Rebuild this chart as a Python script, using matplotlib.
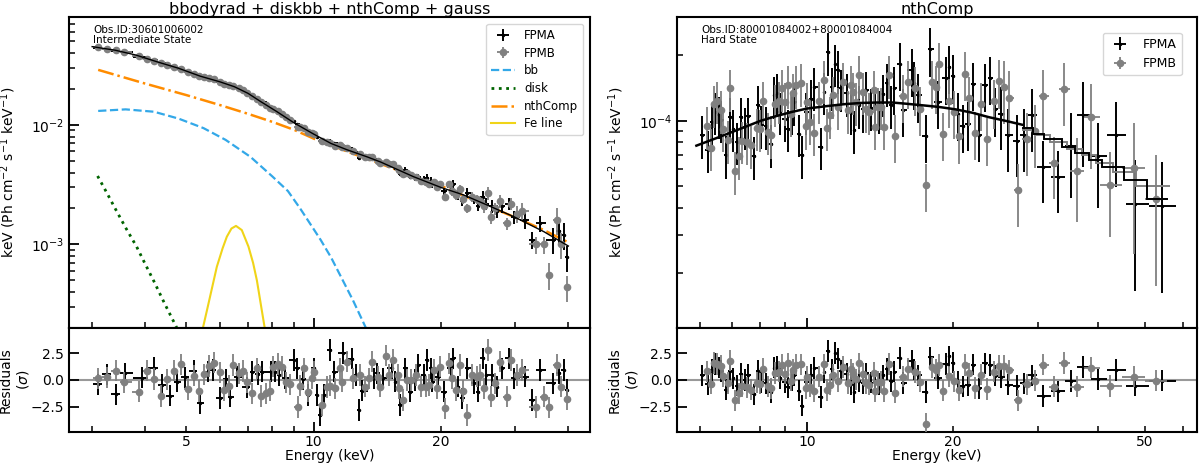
import numpy as np
import matplotlib
matplotlib.use("Agg")
import matplotlib.pyplot as plt
from matplotlib.ticker import FuncFormatter, LogLocator, NullFormatter, FixedLocator

# ---------------- left panel: intermediate state (fluxes in keV ph/cm2/s/keV)
left_e_a = [3.09, 3.25, 3.41, 3.58, 3.93, 4.19, 4.38, 4.58, 4.77, 4.98, 5.21, 5.40, 5.64, 5.78,
            6.00, 6.20, 6.35, 6.60, 6.98, 7.16, 7.40, 7.55, 7.95, 8.10, 8.30, 8.55, 8.97, 9.14,
            9.45, 9.73, 10.0, 10.18, 10.37, 10.56, 10.95, 11.15, 11.77, 12.33, 12.6, 12.78, 13.0,
            13.86, 14.1, 14.6, 15.31, 15.6, 16.04, 16.47, 16.9, 17.4, 17.7, 18.2, 18.55, 18.9,
            19.1, 19.7, 20.3, 21.1, 21.4, 22.0, 22.4, 23.1, 23.9, 24.5, 25.1, 25.6, 26.4, 27.1,
            27.9, 28.9, 29.8, 31.6, 32.9, 34.3, 36.7, 38.0, 39.0, 39.6]
left_flux_a = [0.0444, 0.0434, 0.0418, 0.0407, 0.0373, 0.0347, 0.0327, 0.0311, 0.0300, 0.0285,
               0.0270, 0.0252, 0.0247, 0.0241, 0.0227, 0.0221, 0.0212, 0.0205, 0.0184, 0.0176,
               0.0163, 0.0155, 0.0139, 0.0134, 0.0127, 0.0118, 0.0107, 0.0102, 0.0095, 0.0088,
               0.0085, 0.0079, 0.0074, 0.0074, 0.0074, 0.0070, 0.0067, 0.0063, 0.0059, 0.0053,
               0.0055, 0.0052, 0.0051, 0.0048, 0.0047, 0.0044, 0.0039, 0.0042, 0.0037, 0.0036,
               0.0037, 0.0035, 0.0036, 0.0034, 0.0032, 0.0031, 0.0028, 0.0030, 0.0032, 0.0026,
               0.0023, 0.0027, 0.0024, 0.0021, 0.0025, 0.0022, 0.0021, 0.0019, 0.0021, 0.0022,
               0.0017, 0.0016, 0.0011, 0.0015, 0.0011, 0.0013, 0.0012, 0.00078]
left_res_a = [-0.40, 0.53, -1.34, 0.62, 0.22, 1.15, -0.47, -1.47, -0.16, 0.25, 0.87, -2.18, 0.78,
              0.94, -1.66, 0.06, -1.56, 0.31, -0.69, 0.78, 0.53, 0.78, 0.78, 0.78, 0.47, 0.16,
              1.87, 1.09, 0.09, -1.40, 1.09, -1.40, -3.28, -1.40, 2.81, 0.78, 2.50, 2.00, 0.47,
              -2.81, -1.00, 0.16, 0.62, 0.16, 1.09, -0.16, -2.34, 1.09, -1.09, 0.00, 1.40, 0.47,
              1.87, 1.09, -0.16, 0.31, -1.09, 1.09, 2.03, -0.62, -1.72, 1.09, -0.31, -1.09, 2.03,
              0.47, 0.47, -0.62, 1.09, 2.03, 0.16, 0.31, -1.87, 0.94, -0.31, 0.62, 0.94, -0.94]

left_e_b = [3.09, 3.25, 3.41, 3.57, 3.88, 4.05, 4.21, 4.36, 4.51, 4.69, 4.86, 5.05, 5.22, 5.37,
            5.52, 5.65, 5.82, 6.02, 6.16, 6.33, 6.47, 6.65, 6.81, 6.98, 7.16, 7.37, 7.51, 7.71,
            7.90, 8.04, 8.26, 8.42, 8.60, 8.78, 9.18, 9.30, 9.51, 9.70, 9.91, 10.05, 10.47, 10.76,
            10.95, 11.25, 11.52, 11.7, 11.99, 12.4, 12.9, 13.25, 13.5, 13.74, 14.2, 14.38, 14.85,
            15.04, 15.4, 15.8, 15.9, 16.3, 16.6, 17.0, 17.5, 17.9, 18.4, 18.7, 19.3, 19.55, 19.95,
            20.5, 20.9, 21.2, 21.7, 22.2, 22.6, 23.0, 23.7, 24.3, 24.8, 25.3, 25.9, 26.2, 26.8,
            27.6, 28.6, 29.2, 30.3, 31.0, 33.6, 35.0, 35.9, 37.5, 38.5, 39.8]
left_flux_b = [0.0445, 0.0434, 0.0423, 0.0405, 0.0374, 0.0359, 0.0344, 0.0328, 0.0319, 0.0307,
               0.0295, 0.0279, 0.0269, 0.0256, 0.0252, 0.0247, 0.0241, 0.0230, 0.0222, 0.0215,
               0.0212, 0.0203, 0.0195, 0.0185, 0.0173, 0.0166, 0.0155, 0.0147, 0.0139, 0.0137,
               0.0130, 0.0124, 0.0116, 0.0111, 0.0097, 0.0097, 0.0095, 0.0088, 0.0086, 0.0084,
               0.0073, 0.0072, 0.0070, 0.0067, 0.0068, 0.0065, 0.0064, 0.0060, 0.0057, 0.0054,
               0.0054, 0.0054, 0.0050, 0.0048, 0.0049, 0.0047, 0.0047, 0.0044, 0.0042, 0.0039,
               0.0040, 0.0038, 0.0037, 0.0034, 0.0033, 0.0032, 0.0033, 0.0030, 0.0032, 0.0025,
               0.0032, 0.0028, 0.0026, 0.0029, 0.0024, 0.0020, 0.0025, 0.0024, 0.0023, 0.0021,
               0.0027, 0.0017, 0.0020, 0.0023, 0.0015, 0.0022, 0.0018, 0.0019, 0.0010, 0.0010,
               0.00056, 0.0016, 0.0010, 0.00044]
left_res_b = [0.16, 0.25, 0.87, -0.22, -1.09, 0.87, 0.09, -1.50, 0.06, 0.87, 1.47, -0.84, 0.40,
              -1.03, 0.53, 1.31, 1.62, 0.72, -0.94, -0.53, 1.40, 0.62, 0.84, -0.22, -1.25, 1.09,
              -1.50, -1.25, -1.00, 1.25, 1.50, 1.25, -0.22, -0.40, -2.50, -0.53, 1.09, -1.09, 0.16,
              0.78, -2.34, -0.66, -0.53, -0.78, 1.09, -0.16, 1.72, 0.16, 0.47, -0.62, 0.16, 1.72,
              0.31, -0.62, 2.28, 0.47, 1.87, 0.47, -0.78, -1.87, 0.00, 0.00, 0.47, -0.62, -0.62,
              -0.47, 0.94, -0.78, 1.25, -2.65, 1.56, 0.16, -0.94, 1.40, -1.03, -3.28, 0.47, 0.31,
              0.47, -0.78, 2.81, -1.56, -0.31, 1.72, -1.56, 1.87, 0.47, 0.94, -2.50, -1.56, -2.56,
              1.40, -0.62, -1.81]

# fractional flux errors per energy band (band upper edges in keV)
left_err_edges = [5, 8, 10, 12, 15, 18, 21, 25, 30, 35]
left_err_frac = [0.006, 0.008, 0.012, 0.022, 0.035, 0.05, 0.07, 0.09, 0.12, 0.16, 0.25]

left_model_e = [3.0, 3.4, 3.8, 4.3, 4.8, 5.4, 6.0, 6.5, 7.0, 7.5, 8.2, 9.0, 10, 11, 12, 13.4,
                14.4, 17.2, 20, 22.6, 25.7, 29.7, 35, 40]
left_model_v = [0.0452, 0.0422, 0.0385, 0.0335, 0.0298, 0.0256, 0.0230, 0.0209, 0.0184, 0.0157,
                0.0129, 0.0104, 0.0084, 0.0070, 0.0062, 0.0054, 0.0049, 0.0037, 0.0030, 0.0026,
                0.00214, 0.00171, 0.00128, 0.00097]

bb_e = [3.1, 3.6, 4.2, 4.8, 5.5, 6.2, 7.1, 8.0, 8.7, 9.3, 10.0, 10.4, 11.0, 11.6, 12.4, 13.3, 13.6]
bb_v = [0.0131, 0.0135, 0.0129, 0.0113, 0.0094, 0.0075, 0.0054, 0.0037, 0.0028, 0.0020, 0.00135,
        0.00109, 0.00078, 0.00054, 0.00034, 0.00020, 0.00017]
disk_e = [3.09, 3.25, 3.4, 3.6, 3.82, 4.0, 4.2, 4.45, 4.74, 4.85]
disk_v = [0.00374, 0.0027, 0.0020, 0.00138, 0.00096, 0.00069, 0.00049, 0.00032, 0.000205, 0.00017]
nth_e = [3.1, 4.0, 5.0, 6.0, 7.0, 8.0, 9.0, 10, 12, 14, 17, 20, 25, 30, 35, 40]
nth_v = [0.0289, 0.0222, 0.0178, 0.0147, 0.0124, 0.0106, 0.0091, 0.0077, 0.0060, 0.0049, 0.0038,
         0.0031, 0.0022, 0.00168, 0.00132, 0.00104]
fe_e = [5.40, 5.6, 5.91, 6.1, 6.24, 6.4, 6.56, 6.77, 7.02, 7.2, 7.35, 7.55, 7.75]
fe_v = [0.00016, 0.00028, 0.00065, 0.00093, 0.00116, 0.00136, 0.00143, 0.00132, 0.00096, 0.00070,
        0.00050, 0.00028, 0.00016]

# ---------------- right panel: hard state (fluxes in units of 1e-4)
right_unit = 1e-4
right_e_a = [6.07, 6.23, 6.36, 6.46, 6.57, 6.64, 6.80, 6.91, 7.04, 7.15, 7.31, 7.42, 7.54, 7.78,
             7.91, 8.04, 8.23, 8.40, 8.56, 8.65, 8.79, 8.98, 9.12, 9.31, 9.41, 9.61, 9.76, 9.95,
             10.19, 10.35, 10.69, 10.86, 11.05, 11.26, 11.43, 11.57, 11.75, 12.07, 12.33, 12.52,
             12.78, 13.03, 13.24, 13.56, 13.84, 14.11, 14.38, 14.63, 14.91, 15.15, 15.56, 15.76,
             16.48, 16.66, 16.93, 17.62, 17.96, 18.62, 19.38, 19.68, 20.0, 20.48, 20.97, 21.54,
             22.06, 22.70, 23.36, 23.91, 24.49, 25.16, 26.09, 27.16, 28.12, 29.17, 30.78, 33.12,
             35.13, 37.29, 40.0, 43.6, 47.8, 54.3]
right_flux_a = [0.86, 0.739, 0.99, 1.10, 1.06, 1.01, 0.696, 1.04, 0.923, 0.801, 1.04, 0.939, 1.05,
                0.689, 1.18, 0.956, 0.946, 0.782, 1.31, 1.34, 1.10, 1.025, 0.923, 1.10, 1.22,
                0.875, 0.696, 1.10, 1.26, 1.43, 0.76, 1.36, 2.07, 1.43, 1.83, 1.71, 1.41, 1.34,
                1.10, 0.906, 1.18, 1.13, 1.38, 1.15, 1.17, 1.12, 1.33, 1.49, 1.18, 1.42, 1.83,
                1.12, 1.72, 1.49, 1.31, 0.851, 2.13, 1.22, 1.58, 1.77, 1.60, 1.08, 0.946, 0.973,
                1.48, 0.86, 1.46, 1.58, 1.13, 1.08, 0.86, 0.81, 0.86, 1.06, 0.615, 0.554, 0.765,
                1.06, 0.69, 0.86, 0.415, 0.405]
right_res_a = [0.42, -0.37, 0.94, 1.48, 1.17, 0.86, -0.90, 0.82, 0.15, -0.53, 0.57, 0.02, 0.48,
               -1.34, 0.87, -0.20, -0.32, -1.10, 1.14, 1.24, 0.16, -0.22, -0.69, 0.00, 0.47, -0.99,
               -2.40, -0.15, 0.45, 1.10, -1.57, 0.76, 2.70, 0.98, 2.50, 2.00, 0.85, 0.55, -0.38,
               -1.12, -0.10, -0.30, 0.63, -0.24, -0.17, -0.36, 0.43, 1.03, -0.13, 0.78, 2.06, -0.28,
               1.77, 1.00, 0.42, -1.10, 2.10, 0.20, 1.50, 2.20, 1.63, -0.17, -0.60, -0.46, 1.44,
               -0.78, 1.55, 1.40, 0.40, 0.28, -0.42, -0.53, -0.31, 0.44, -1.50, -1.06, -0.10, 1.20,
               0.06, 0.94, -0.53, -0.06]

right_e_b = [6.21, 6.33, 6.43, 6.51, 6.62, 6.69, 6.85, 6.94, 7.08, 7.22, 7.34, 7.50, 7.66, 7.87,
             7.97, 8.12, 8.29, 8.43, 8.60, 8.74, 8.88, 8.98, 9.12, 9.27, 9.37, 9.49, 9.72, 9.95,
             10.0, 10.16, 10.35, 10.57, 10.82, 11.0, 11.16, 11.29, 11.61, 11.88, 12.13, 12.33,
             12.46, 12.62, 12.83, 13.03, 13.24, 13.45, 13.73, 13.84, 13.99, 14.22, 14.44, 14.79,
             15.20, 15.76, 16.14, 16.74, 17.12, 17.62, 18.13, 18.47, 18.77, 19.12, 19.62, 20.15,
             20.64, 21.21, 21.64, 22.27, 22.88, 23.62, 24.38, 24.96, 25.57, 26.18, 27.33, 28.48,
             29.58, 30.82, 32.43, 34.02, 36.13, 38.67, 42.27, 47.5, 52.8]
right_flux_b = [0.946, 0.755, 1.19, 1.24, 1.12, 0.923, 0.816, 1.41, 0.588, 0.689, 0.81, 0.801,
                0.773, 0.932, 0.923, 1.24, 0.89, 0.86, 1.20, 1.24, 1.41, 1.22, 1.46, 1.08, 1.34,
                1.46, 1.49, 0.946, 1.22, 0.99, 0.881, 1.24, 1.54, 0.932, 1.06, 1.31, 1.16, 1.51,
                1.12, 1.46, 1.36, 1.22, 1.62, 1.36, 1.13, 1.10, 1.39, 0.939, 1.16, 1.16, 0.939,
                1.62, 0.851, 1.30, 1.51, 1.41, 1.14, 0.507, 1.51, 1.43, 1.83, 0.87, 1.24, 1.10,
                0.85, 1.65, 1.27, 0.881, 1.20, 0.825, 1.23, 1.52, 1.43, 1.28, 0.481, 0.825, 0.895,
                1.30, 0.642, 1.40, 0.59, 1.04, 0.507, 0.611, 0.437]
right_res_b = [0.81, -0.34, 1.60, 1.50, 1.30, 0.36, -0.30, 1.80, -1.90, -1.25, -0.57, -0.69, -0.90,
               -0.25, -0.34, 1.04, -0.59, -0.77, 0.65, 0.77, 1.44, 0.60, 1.56, -0.07, 0.97, 1.43,
               1.47, -0.77, 0.32, -0.61, -1.07, 0.32, 1.46, -0.92, -0.44, 0.51, -0.10, 1.22, -0.29,
               0.98, 0.60, 0.06, 1.55, 0.56, -0.30, -0.42, 0.66, -1.03, -0.20, -0.20, -1.03, 1.51,
               -1.19, 0.32, 1.04, 0.74, -0.15, -4.10, 1.17, 0.92, 1.40, -0.98, 0.34, -0.12, -0.97,
               1.40, 0.63, -0.75, 0.51, -0.84, 0.79, 1.30, 1.33, 0.90, -1.90, -0.40, -0.07, 1.44,
               -0.62, 1.60, -0.62, 1.16, -0.56, 0.31, -0.06]

right_err_edges = [15, 25, 35, 45]
right_err_frac = [0.22, 0.25, 0.32, 0.42, 0.6]

# smooth part of the model and the binned (stepped) part at high energy
right_model_e = [5.9, 6.5, 7.0, 7.5, 8.0, 8.6, 9.3, 10, 11, 12, 13, 14, 15, 16, 17.3, 18.7, 20.3,
                 22, 23.8, 25.8, 27.9]
right_model_v = [0.77, 0.835, 0.89, 0.945, 1.0, 1.05, 1.10, 1.14, 1.17, 1.195, 1.21, 1.215, 1.215,
                 1.20, 1.18, 1.16, 1.13, 1.09, 1.04, 1.0, 0.96]
step_edges_a = [27.9, 29.4, 30.9, 33.7, 35.9, 38.3, 40.8, 45.3, 50.5, 55.8]
step_vals_a = [0.93, 0.875, 0.83, 0.76, 0.71, 0.66, 0.615, 0.535, 0.44]
step_edges_b = [27.9, 29.9, 31.8, 34.5, 37.0, 39.6, 43.0, 48.0, 56.5]
step_vals_b = [0.91, 0.86, 0.80, 0.745, 0.695, 0.64, 0.58, 0.50]

left_xlabels = [5, 10, 20]
right_xlabels = [10, 20, 50]

A_COL = "black"
B_COL = "#808080"


def bin_halfwidths(e):
    e = np.asarray(e, float)
    mid = np.sqrt(e[:-1] * e[1:])
    lo = np.concatenate([[e[0] ** 2 / mid[0]], mid])
    hi = np.concatenate([mid, [e[-1] ** 2 / mid[-1]]])
    return np.vstack([e - lo, hi - e])


def band_frac(e, edges, fracs):
    return np.asarray(fracs)[np.searchsorted(edges, e)]


def style_axis(ax, labels):
    ax.set_xscale("log")
    ax.xaxis.set_major_locator(LogLocator(base=10))
    ax.xaxis.set_minor_locator(LogLocator(base=10, subs=np.arange(2, 10)))
    f = FuncFormatter(lambda v, p: f"{v:g}" if any(abs(v - t) < 1e-6 * t for t in labels) else "")
    ax.xaxis.set_major_formatter(f)
    ax.xaxis.set_minor_formatter(f)
    ax.tick_params(which="both", direction="in", top=False, right=False, labelsize=10)
    ax.tick_params(which="major", length=7, width=1.3)
    ax.tick_params(which="minor", length=4, width=1.1)
    ax.tick_params(axis="x", which="both", pad=2.5)
    for s in ax.spines.values():
        s.set_linewidth(1.5)


def draw_data(ax, ax_r, e_a, f_a, r_a, e_b, f_b, r_b, err_edges, err_frac, unit=1.0):
    e_a = np.asarray(e_a); e_b = np.asarray(e_b)
    f_a = np.asarray(f_a) * unit; f_b = np.asarray(f_b) * unit
    xa = bin_halfwidths(e_a); xb = bin_halfwidths(e_b)
    ya = f_a * band_frac(e_a, err_edges, err_frac)
    yb = f_b * band_frac(e_b, err_edges, err_frac)
    ha = ax.errorbar(e_a, f_a, yerr=ya, xerr=xa, fmt=".", color=A_COL, ms=3,
                     elinewidth=1.4, capsize=0, zorder=3, label="FPMA")
    hb = ax.errorbar(e_b, f_b, yerr=yb, xerr=xb, fmt="o", color=B_COL, ms=4.5,
                     elinewidth=1.3, capsize=0, zorder=4, label="FPMB")
    ax_r.axhline(0, color="#999999", lw=1.5, zorder=1)
    ax_r.errorbar(e_a, r_a, yerr=1.0, xerr=xa, fmt=".", color=A_COL, ms=3,
                  elinewidth=1.4, capsize=0, zorder=3)
    ax_r.errorbar(e_b, r_b, yerr=1.0, xerr=xb, fmt="o", color=B_COL, ms=4.5,
                  elinewidth=1.3, capsize=0, zorder=4)
    return ha, hb


fig = plt.figure(figsize=(12, 4.66), dpi=100)
W = 0.4342
axL = fig.add_axes([0.0575, 0.2961, W, 0.6674])
axLr = fig.add_axes([0.0575, 0.0730, W, 0.2231], sharex=axL)
axR = fig.add_axes([0.5642, 0.2961, 0.433, 0.6674])
axRr = fig.add_axes([0.5642, 0.0730, 0.433, 0.2231], sharex=axR)

# ---- left
haL, hbL = draw_data(axL, axLr, left_e_a, left_flux_a, left_res_a,
                     left_e_b, left_flux_b, left_res_b, left_err_edges, left_err_frac)
axL.plot(left_model_e, left_model_v, color="black", lw=1.0, zorder=5)
l_bb, = axL.plot(bb_e, bb_v, ls="--", color="#33a8e8", lw=1.6, label="bb", zorder=2)
l_disk, = axL.plot(disk_e, disk_v, ls=":", color="darkgreen", lw=2.0, label="disk", zorder=2)
l_nth, = axL.plot(nth_e, nth_v, ls="-.", color="darkorange", lw=1.8, label="nthComp", zorder=2)
l_fe, = axL.plot(fe_e, fe_v, ls="-", color="#f0d418", lw=1.5, label="Fe line", zorder=2)

axL.set_yscale("log")
axL.set_ylim(2.0e-4, 0.08)
axL.yaxis.set_minor_formatter(NullFormatter())
for a in (axL, axLr):
    style_axis(a, left_xlabels)
axL.set_xlim(2.645, 45.0)
axL.tick_params(labelbottom=False)
axL.set_title("bbodyrad + diskbb + nthComp + gauss", fontsize=11.5, pad=2)
axL.set_ylabel(r"keV (Ph cm$^{-2}$ s$^{-1}$ keV$^{-1}$)", fontsize=10)
axL.yaxis.set_label_coords(-0.098, 0.5)
axL.text(0.046, 0.975, "Obs.ID:30601006002\nIntermediate State", transform=axL.transAxes,
         fontsize=7.5, va="top", ha="left", linespacing=1.0)
axL.legend(handles=[haL, hbL, l_bb, l_disk, l_nth, l_fe], loc="upper right", fontsize=8.5,
           labelspacing=0.4, borderaxespad=0.6)

axLr.set_ylim(-4.85, 4.85)
axLr.yaxis.set_major_locator(FixedLocator([-2.5, 0.0, 2.5]))
axLr.set_ylabel("Residuals\n($\\sigma$)", fontsize=10)
axLr.yaxis.set_label_coords(-0.072, 0.5)
axLr.set_xlabel("Energy (keV)", fontsize=10, labelpad=0)

# ---- right
haR, hbR = draw_data(axR, axRr, right_e_a, right_flux_a, right_res_a,
                     right_e_b, right_flux_b, right_res_b, right_err_edges, right_err_frac,
                     unit=right_unit)
axR.plot(right_model_e, np.asarray(right_model_v) * right_unit, color="black", lw=1.8, zorder=5)
axR.stairs(np.asarray(step_vals_b) * right_unit, step_edges_b, baseline=None,
           color=B_COL, lw=1.4, zorder=5)
axR.stairs(np.asarray(step_vals_a) * right_unit, step_edges_a, baseline=None,
           color="black", lw=1.4, zorder=5)

axR.set_yscale("log")
axR.set_ylim(1.12e-5, 3.0e-4)
axR.yaxis.set_minor_formatter(NullFormatter())
for a in (axR, axRr):
    style_axis(a, right_xlabels)
axR.set_xlim(5.38, 64.0)
axR.tick_params(labelbottom=False)
axR.set_title("nthComp", fontsize=11.5, pad=2)
axR.set_ylabel(r"keV (Ph cm$^{-2}$ s$^{-1}$ keV$^{-1}$)", fontsize=10)
axR.yaxis.set_label_coords(-0.098, 0.5)
axR.text(0.047, 0.975, "Obs.ID:80001084002+80001084004\nHard State", transform=axR.transAxes,
         fontsize=7.5, va="top", ha="left", linespacing=1.0)
axR.legend(handles=[haR, hbR], loc="upper right", fontsize=9, bbox_to_anchor=(0.983, 0.969))

axRr.set_ylim(-4.85, 4.85)
axRr.yaxis.set_major_locator(FixedLocator([-2.5, 0.0, 2.5]))
axRr.set_ylabel("Residuals\n($\\sigma$)", fontsize=10)
axRr.yaxis.set_label_coords(-0.072, 0.5)
axRr.set_xlabel("Energy (keV)", fontsize=10, labelpad=0)

fig.savefig("out.png", dpi=100)
